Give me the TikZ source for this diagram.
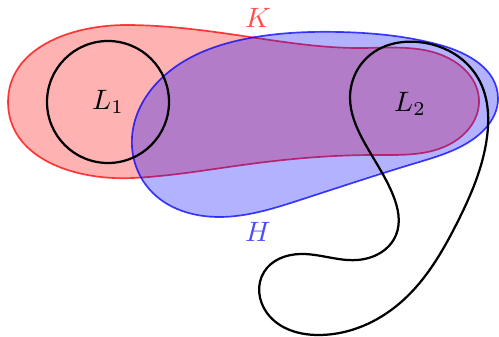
\documentclass[tikz,border=0pt]{standalone}
\usetikzlibrary{hobby}
\begin{document}
\begin{tikzpicture}[x=0.357pt,y=-0.357pt,
  regK/.style={draw=red, draw opacity=0.75, fill=red, fill opacity=0.3, semithick},
  regH/.style={draw=blue, draw opacity=0.75, fill=blue, fill opacity=0.3, semithick},
  loopline/.style={black, thick}]
\useasboundingbox (0,0) rectangle (499,336);
% K region
\draw[regK, use Hobby shortcut, closed=true] (8,102) .. (127,25) .. (250,37) .. (360,48) .. (452,60)
  .. (479,100) .. (452,143) .. (376,155) .. (250,164) .. (133,178);
% H region
\draw[regH, use Hobby shortcut, closed=true] (132,137) .. (165,75) .. (250,38) .. (340,32) .. (440,45)
  .. (498,98) .. (472,140) .. (416,163) .. (300,200) .. (220,217) .. (150,190);
% L1
\node[draw, loopline, circle, minimum size=122*0.357pt, inner sep=0pt] (c1) at (108,102) {};
\node (L1) at (108,102) {$L_1$};
% L2 loop
\draw[loopline, use Hobby shortcut, closed=true] (418,42) .. (478,78) .. (487,137) .. (457,223)
  .. (400,303) .. (320,335) .. (267,313) .. (264,272) .. (300,254) .. (357,260) .. (396,235)
  .. (393,195) .. (363,140) .. (350,98) .. (370,55);
\node (L2) at (410,104) {$L_2$};
\node[text=red!70] (K) at (258,18) {$K$};
\node[text=blue!70] (H) at (258,232) {$H$};
\end{tikzpicture}
\end{document}
